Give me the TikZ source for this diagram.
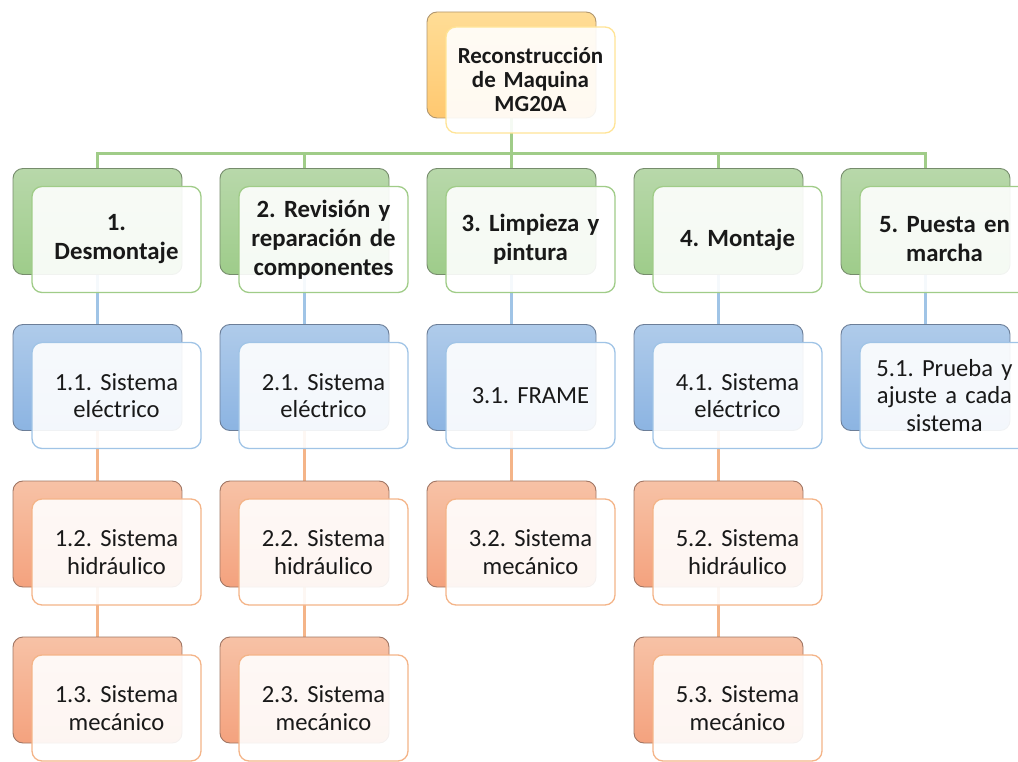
\documentclass[tikz,border=0pt]{standalone}
\usepackage{fontspec}
\setmainfont{Carlito}
\usetikzlibrary{backgrounds}
\frenchspacing

% palette
\definecolor{grTop}{RGB}{184,216,170}
\definecolor{grBot}{RGB}{158,204,138}
\definecolor{grEdge}{RGB}{118,140,108}
\definecolor{grLine}{RGB}{160,204,136}
\definecolor{blTop}{RGB}{175,203,234}
\definecolor{blBot}{RGB}{140,180,226}
\definecolor{blEdge}{RGB}{108,126,152}
\definecolor{blLine}{RGB}{160,196,230}
\definecolor{orTop}{RGB}{247,194,166}
\definecolor{orBot}{RGB}{244,162,126}
\definecolor{orEdge}{RGB}{160,118,100}
\definecolor{orLine}{RGB}{244,180,136}
\definecolor{yeTop}{RGB}{255,221,150}
\definecolor{yeBot}{RGB}{255,200,112}
\definecolor{yeEdge}{RGB}{176,150,110}
\definecolor{yeLine}{RGB}{255,228,150}

\tikzset{
  backbox/.style={rectangle, rounded corners=10pt, minimum width=169pt,
    minimum height=106pt, inner sep=0pt, line width=0.9pt},
  frontbox/.style={rectangle, rounded corners=10pt, minimum width=169pt,
    minimum height=106pt, inner sep=0pt, line width=1.3pt, fill=white,
    fill opacity=0.9, text opacity=1, text=black!90, text width=164pt, align=center},
  grback/.style={backbox, top color=grTop, bottom color=grBot, draw=grEdge},
  blback/.style={backbox, top color=blTop, bottom color=blBot, draw=blEdge},
  orback/.style={backbox, top color=orTop, bottom color=orBot, draw=orEdge},
  yeback/.style={backbox, top color=yeTop, bottom color=yeBot, draw=yeEdge},
  grfront/.style={frontbox, draw=grLine},
  blfront/.style={frontbox, draw=blLine},
  orfront/.style={frontbox, draw=orLine},
  yefront/.style={frontbox, draw=yeLine},
  toptext/.style={font=\fontsize{23}{24}\selectfont\bfseries, yshift=3pt},
  phasetext/.style={font=\fontsize{24.8}{29}\selectfont\bfseries},
  tasktext/.style={font=\fontsize{24.6}{27.5}\selectfont},
  grconn/.style={draw=grLine, line width=2.3pt},
  blconn/.style={draw=blLine, line width=2.3pt},
  orconn/.style={draw=orLine, line width=2.3pt},
}

% a WBS element: shaded back card plus translucent front card holding the text
% #1 name, #2 x, #3 y (back card centre), #4 colour family, #5 text style, #6 text
\newcommand\wbsitem[6]{%
  \node[#4back] (#1-b) at (#2,#3) {};
  \node[#4front, #5] (#1) at (#2+19,#3+18) {#6};
}

\begin{document}
\begin{tikzpicture}[x=1pt, y=-1pt]
\useasboundingbox (0,0) rectangle (1018,762);
\clip (0,0) rectangle (1018,762);

% root
\wbsitem{root}{511.5}{65}{ye}{toptext}{Reconstrucción\\de Maquina\\MG20A}

% phases
\wbsitem{p1}{97.5}{221.5}{gr}{phasetext}{1.\\Desmontaje}
\wbsitem{p2}{304.5}{221.5}{gr}{phasetext}{2. Revisión y\\reparación de\\componentes}
\wbsitem{p3}{511.5}{221.5}{gr}{phasetext}{3. Limpieza y\\pintura}
\wbsitem{p4}{718.5}{221.5}{gr}{phasetext}{4. Montaje}
\wbsitem{p5}{925.5}{221.5}{gr}{phasetext}{5. Puesta en\\marcha}

% second level
\wbsitem{t11}{97.5}{377.5}{bl}{tasktext}{1.1. Sistema\\eléctrico}
\wbsitem{t21}{304.5}{377.5}{bl}{tasktext}{2.1. Sistema\\eléctrico}
\wbsitem{t31}{511.5}{377.5}{bl}{tasktext}{3.1. FRAME}
\wbsitem{t41}{718.5}{377.5}{bl}{tasktext}{4.1. Sistema\\eléctrico}
\wbsitem{t51}{925.5}{377.5}{bl}{tasktext}{5.1. Prueba y\\ajuste a cada\\sistema}

% third level
\wbsitem{t12}{97.5}{534}{or}{tasktext}{1.2. Sistema\\hidráulico}
\wbsitem{t22}{304.5}{534}{or}{tasktext}{2.2. Sistema\\hidráulico}
\wbsitem{t32}{511.5}{534}{or}{tasktext}{3.2. Sistema\\mecánico}
\wbsitem{t42}{718.5}{534}{or}{tasktext}{5.2. Sistema\\hidráulico}

% fourth level
\wbsitem{t13}{97.5}{690}{or}{tasktext}{1.3. Sistema\\mecánico}
\wbsitem{t23}{304.5}{690}{or}{tasktext}{2.3. Sistema\\mecánico}
\wbsitem{t43}{718.5}{690}{or}{tasktext}{5.3. Sistema\\mecánico}

% connectors, kept under the cards
\begin{pgfonlayer}{background}
  \coordinate (bus) at (511.5,153.5);
  \draw[grconn] (root-b.south) -- (bus);
  \foreach \p in {p1,p2,p3,p4,p5}
    \draw[grconn] (bus) -| (\p-b.north);
  \foreach \a/\b in {p1/t11,p2/t21,p3/t31,p4/t41,p5/t51}
    \draw[blconn] (\a-b.south) -- (\b-b.north);
  \foreach \a/\b in {t11/t12,t21/t22,t31/t32,t41/t42,t12/t13,t22/t23,t42/t43}
    \draw[orconn] (\a-b.south) -- (\b-b.north);
\end{pgfonlayer}
\end{tikzpicture}
\end{document}
